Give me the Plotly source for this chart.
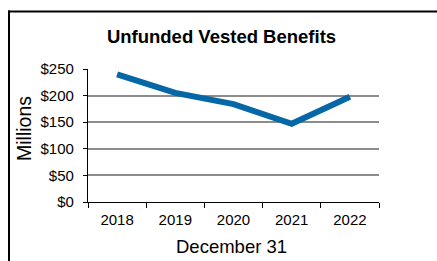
import plotly.graph_objects as go

years = ["2018", "2019", "2020", "2021", "2022"]
values = [240, 205, 184, 147, 198]
y_ticks = [0, 50, 100, 150, 200, 250]
y_labels = ["$0", "$50", "$100", "$150", "$200", "$250"]

W, H = 437, 261
L, R, T, B = 88, 58, 69, 59
pw, ph = W - L - R, H - T - B

def px(x):
    return (x - L) / pw

def py(y):
    return 1 - (y - T) / ph

fig = go.Figure()
fig.add_trace(go.Scatter(
    x=years, y=values, mode="lines",
    line=dict(color="#0567a6", width=6),
    hoverinfo="skip",
))

fig.update_layout(
    width=W, height=H,
    margin=dict(l=L, r=R, t=T, b=B, autoexpand=False),
    paper_bgcolor="white", plot_bgcolor="white",
    showlegend=False,
    font=dict(family="Liberation Sans, Arial, sans-serif", color="black"),
    title=dict(text="<b>Unfunded Vested Benefits</b>", x=221.5 / W, xanchor="center",
               y=1 - 36.5 / H, yanchor="middle", font=dict(size=18.5)),
    xaxis=dict(
        type="category", tickson="boundaries", ticks="outside", ticklen=5,
        tickcolor="black", showline=True, linecolor="black", linewidth=1.3,
        showgrid=False, tickfont=dict(size=15), range=[-0.5, 4.5],
        ticklabelstandoff=4,
    ),
    yaxis=dict(
        range=[0, 250], tickvals=y_ticks, ticktext=y_labels,
        ticks="outside", ticklen=4, tickcolor="black",
        showline=True, linecolor="black", linewidth=1.3,
        showgrid=True, gridcolor="#8c8c8c", gridwidth=1.5,
        tickfont=dict(size=15), zeroline=False, ticklabelstandoff=6,
    ),
    annotations=[
        dict(text="Millions", xref="paper", yref="paper", x=px(24), y=py(129),
             xanchor="center", yanchor="middle", textangle=-90, showarrow=False,
             font=dict(size=19.5)),
        dict(text="December 31", xref="paper", yref="paper", x=px(231), y=py(246),
             xanchor="center", yanchor="middle", showarrow=False,
             font=dict(size=18.5)),
    ],
    shapes=[
        dict(type="line", xref="paper", yref="paper", x0=px(8), x1=px(440), y0=py(11.5), y1=py(11.5),
             line=dict(color="black", width=2)),
        dict(type="line", xref="paper", yref="paper", x0=px(9), x1=px(9), y0=py(10.5), y1=py(265),
             line=dict(color="black", width=2)),
    ],
)

fig.write_html("out.html", config={"displayModeBar": False},
               post_script="document.body.style.margin='0';")
